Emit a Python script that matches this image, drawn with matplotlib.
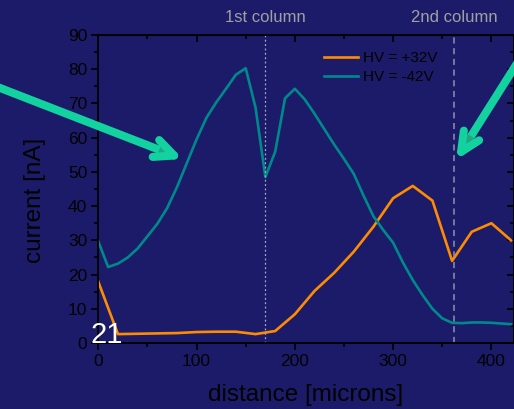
import matplotlib
matplotlib.use("Agg")
import matplotlib.pyplot as plt
from matplotlib.ticker import MultipleLocator
from matplotlib.patches import FancyArrowPatch
import matplotlib.patheffects as pe

plt.rcParams['font.family'] = ['Liberation Sans', 'DejaVu Sans']

# HV = -42V, every 10 microns
x_neg = list(range(0, 421, 10))
i_neg = [29.7, 22.2, 23.2, 25.0, 27.6, 31.2, 34.8, 39.4, 45.5, 52.5,
         59.5, 65.8, 70.3, 74.3, 78.4, 80.3, 68.8, 48.5, 55.9, 71.5,
         74.3, 71.2, 67.0, 62.5, 58.0, 53.8, 49.4, 43.0, 37.0, 33.0,
         29.3, 23.5, 18.4, 14.0, 10.0, 7.2, 5.9, 5.8, 6.0, 6.0,
         5.9, 5.7, 5.5]

# HV = +32V, every 20 microns
x_pos = list(range(0, 421, 20))
i_pos = [17.9, 2.6, 2.7, 2.8, 2.9, 3.2, 3.3, 3.3, 2.6, 3.5, 8.4,
         15.2, 20.5, 26.7, 34.0, 42.3, 45.9, 41.6, 24.0, 32.5, 35.0, 30.0]

col_pos = [170, 361.5]
col_labels = ["1st column", "2nd column"]

bg = '#1c1b69'
W, H = 514, 409

fig = plt.figure(figsize=(W / 100, H / 100), dpi=100, facecolor=bg)
ax = fig.add_axes([98.3 / W, (H - 343) / H, (W - 98.3) / W, (343 - 35) / H])
ax.set_facecolor(bg)

ax.plot(x_pos, i_pos, color='#ff8c00', lw=1.9, label='HV = +32V')
ax.plot(x_neg, i_neg, color='#00898a', lw=1.9, label='HV = -42V')

ax.axvline(col_pos[0], color='#a8a8c4', lw=0.9, ls=(0, (1.5, 2)))
ax.axvline(col_pos[1], color='#9090ae', lw=1.1, ls=(0, (4, 3)))

ax.set_xlim(0, 423)
ax.set_ylim(0, 90)
ax.xaxis.set_major_locator(MultipleLocator(100))
ax.xaxis.set_minor_locator(MultipleLocator(50))
ax.yaxis.set_major_locator(MultipleLocator(10))
ax.yaxis.set_minor_locator(MultipleLocator(5))
ax.tick_params(which='major', direction='out', length=5, width=1.2,
               labelsize=12.5, colors='black', pad=3)
ax.tick_params(which='minor', direction='out', length=3, width=1.2)
for s in ax.spines.values():
    s.set_color('black')
    s.set_linewidth(1.3)

top = ax.secondary_xaxis('top')
top.xaxis.set_major_locator(MultipleLocator(100))
top.xaxis.set_minor_locator(MultipleLocator(50))
top.tick_params(which='both', direction='in', labeltop=False, width=1.2)
top.tick_params(which='major', length=5)
top.tick_params(which='minor', length=3)
right = ax.secondary_yaxis('right')
right.yaxis.set_major_locator(MultipleLocator(10))
right.yaxis.set_minor_locator(MultipleLocator(5))
right.tick_params(which='both', direction='in', labelright=False, width=1.2)
right.tick_params(which='major', length=5)
right.tick_params(which='minor', length=3)

ax.legend(loc='upper left', bbox_to_anchor=(324 / W, (H - 51) / H),
          bbox_transform=fig.transFigure, frameon=False, fontsize=11,
          handlelength=2.2, handletextpad=0.35, labelspacing=0.35,
          borderpad=0, borderaxespad=0)

fig.text(306 / W, (H - 395) / H, 'distance [microns]', fontsize=17.5,
         ha='center', va='center', color='black')
fig.text(35 / W, (H - 200) / H, 'current [nA]', fontsize=17.5, rotation=90,
         ha='center', va='center', color='black')

for xp, lab in zip([265.5, 454], col_labels):
    fig.text(xp / W, (H - 17) / H, lab, fontsize=12, color='#a0a0a4',
             ha='center', va='center')

fig.text(91 / W, (H - 343) / H, '21', fontsize=21, color='white',
         ha='left', va='baseline')

# green pointer arrows
def arrow(p0, p1):
    a = FancyArrowPatch((p0[0] / W, (H - p0[1]) / H), (p1[0] / W, (H - p1[1]) / H),
                        transform=fig.transFigure,
                        arrowstyle='->,head_length=1.4,head_width=0.65',
                        mutation_scale=10, color='#12d2a0', lw=5.8,
                        shrinkA=0, shrinkB=0,
                        capstyle='round', joinstyle='round')
    a.set_path_effects([pe.SimplePatchShadow(offset=(2, -2), alpha=0.35), pe.Normal()])
    fig.add_artist(a)

arrow((-5, 86), (183, 159))
arrow((521, 57), (456, 160))

fig.savefig('out.png', dpi=100, facecolor=bg)
